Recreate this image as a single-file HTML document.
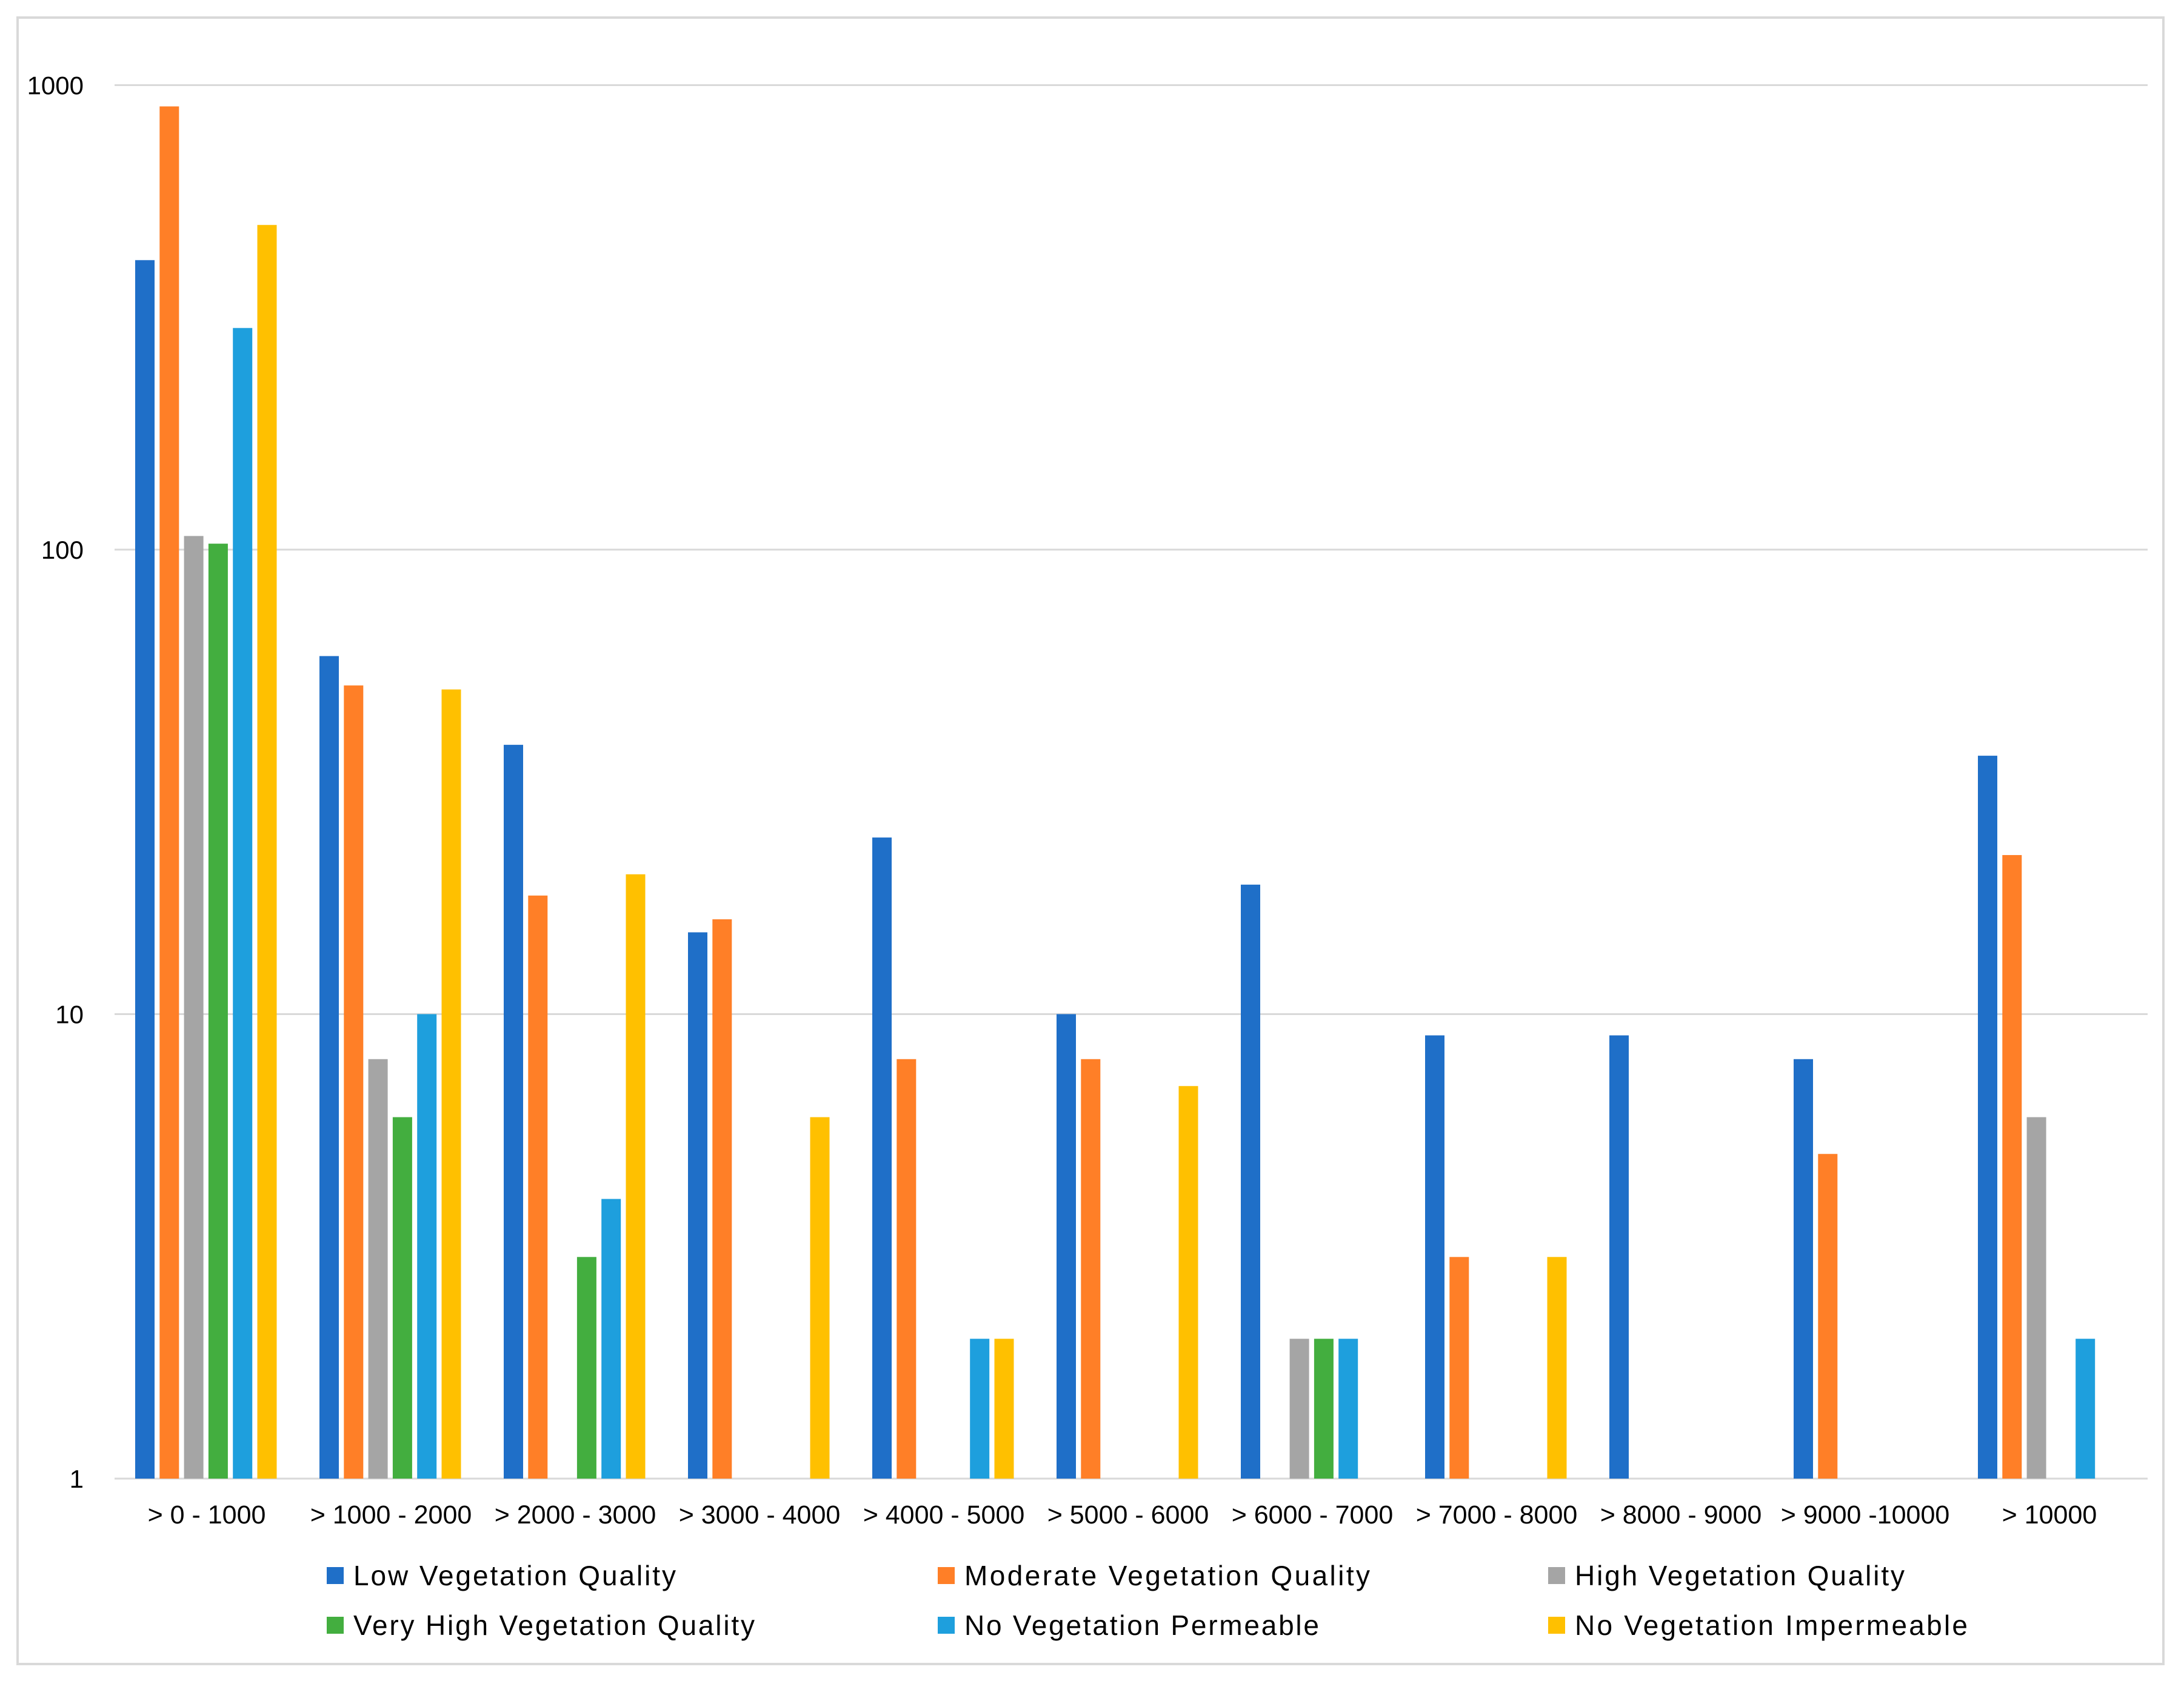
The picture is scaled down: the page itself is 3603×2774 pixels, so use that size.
<!DOCTYPE html>
<html><head><meta charset="utf-8"><style>
html,body{margin:0;padding:0;background:#fff;}
svg{display:block;font-family:"Liberation Sans",sans-serif;}
</style></head><body>
<svg id="chart" width="3603" height="2774" viewBox="0 0 3603 2774" xmlns="http://www.w3.org/2000/svg">
<rect x="29" y="29" width="3540" height="2717" fill="#fff" stroke="#d9d9d9" stroke-width="4"/>
<g id="grid"></g>
<g id="bars"></g>
<g id="xlabels"></g>
<g id="legend"></g>
</svg>
<script>
const categories = ["> 0 - 1000","> 1000 - 2000","> 2000 - 3000","> 3000 - 4000","> 4000 - 5000","> 5000 - 6000","> 6000 - 7000","> 7000 - 8000","> 8000 - 9000","> 9000 -10000","> 10000"];
const seriesNames = ["Low Vegetation Quality","Moderate Vegetation Quality","High Vegetation Quality","Very High Vegetation Quality","No Vegetation Permeable","No Vegetation Impermeable"];
const lowVeg = [420,59,38,15,24,10,19,9,9,8,36];
const moderateVeg = [900,51,18,16,8,8,null,3,null,5,22];
const highVeg = [107,8,null,null,null,null,2,null,null,null,6];
const veryHighVeg = [103,6,3,null,null,null,2,null,null,null,null];
const noVegPermeable = [300,10,4,null,2,null,2,null,null,null,2];
const noVegImpermeable = [500,50,20,6,2,7,null,3,null,null,null];
const yTicks = [1,10,100,1000];
const yTickLabels = ["1","10","100","1000"];

const series = [lowVeg,moderateVeg,highVeg,veryHighVeg,noVegPermeable,noVegImpermeable];
const colors = ["#1F6FC8","#FF7F27","#A5A5A5","#43AE3F","#1E9FDD","#FFC000"];
const legendWidths = [532,669,544,662,585,648];
const NS = "http://www.w3.org/2000/svg";
const X0 = 189, X1 = 3533, Y1 = 2440, DEC = 766.5;
const catW = (X1 - X0) / categories.length;
function yScale(v){ return Y1 - Math.log10(v) * DEC; }
function xBand(i){ return X0 + i * catW; }
function mk(tag, attrs, parent){ const e=document.createElementNS(NS,tag); for(const k in attrs) e.setAttribute(k,attrs[k]); parent.appendChild(e); return e; }

const grid = document.getElementById('grid');
yTicks.forEach((t,i)=>{
  const y = yScale(t);
  const l = mk('line',{x1:X0,x2:3543,y1:y,y2:y,stroke:'#d9d9d9','stroke-width':3},grid);
  
  
  const tx = mk('text',{x:138,y:y+15,'text-anchor':'end','font-size':42,fill:'#000'},grid);
  tx.textContent = yTickLabels[i];
  
  
});

const bars = document.getElementById('bars');
const step = 40.3, bw = 32, off = 34;
series.forEach((s,si)=>{
  s.forEach((v,ci)=>{
    if(v==null || v<=0) return;
    const x = xBand(ci) + off + si*step;
    const y = yScale(v);
    const r = mk('rect',{x:x,y:y,width:bw,height:Y1-y,fill:colors[si]},bars);
    
    
  });
});

const xl = document.getElementById('xlabels');
categories.forEach((c,i)=>{
  const t = mk('text',{x:xBand(i)+catW/2,y:2514,'text-anchor':'middle','font-size':43,fill:'#000'},xl);
  t.textContent = c;
  
  
});

const lg = document.getElementById('legend');
const legX = [539,1547,2554], legY = [2600,2682];
seriesNames.forEach((n,i)=>{
  const x = legX[i%3], y = legY[Math.floor(i/3)];
  const g = mk('g',{},lg);
  
  
  mk('rect',{x:x,y:y-14,width:28,height:28,fill:colors[i]},g);
  const t = mk('text',{x:x+44,y:y+16,'font-size':46,fill:'#000',textLength:legendWidths[i],lengthAdjust:'spacing'},g);
  t.textContent = n;
});
</script>
</body></html>
